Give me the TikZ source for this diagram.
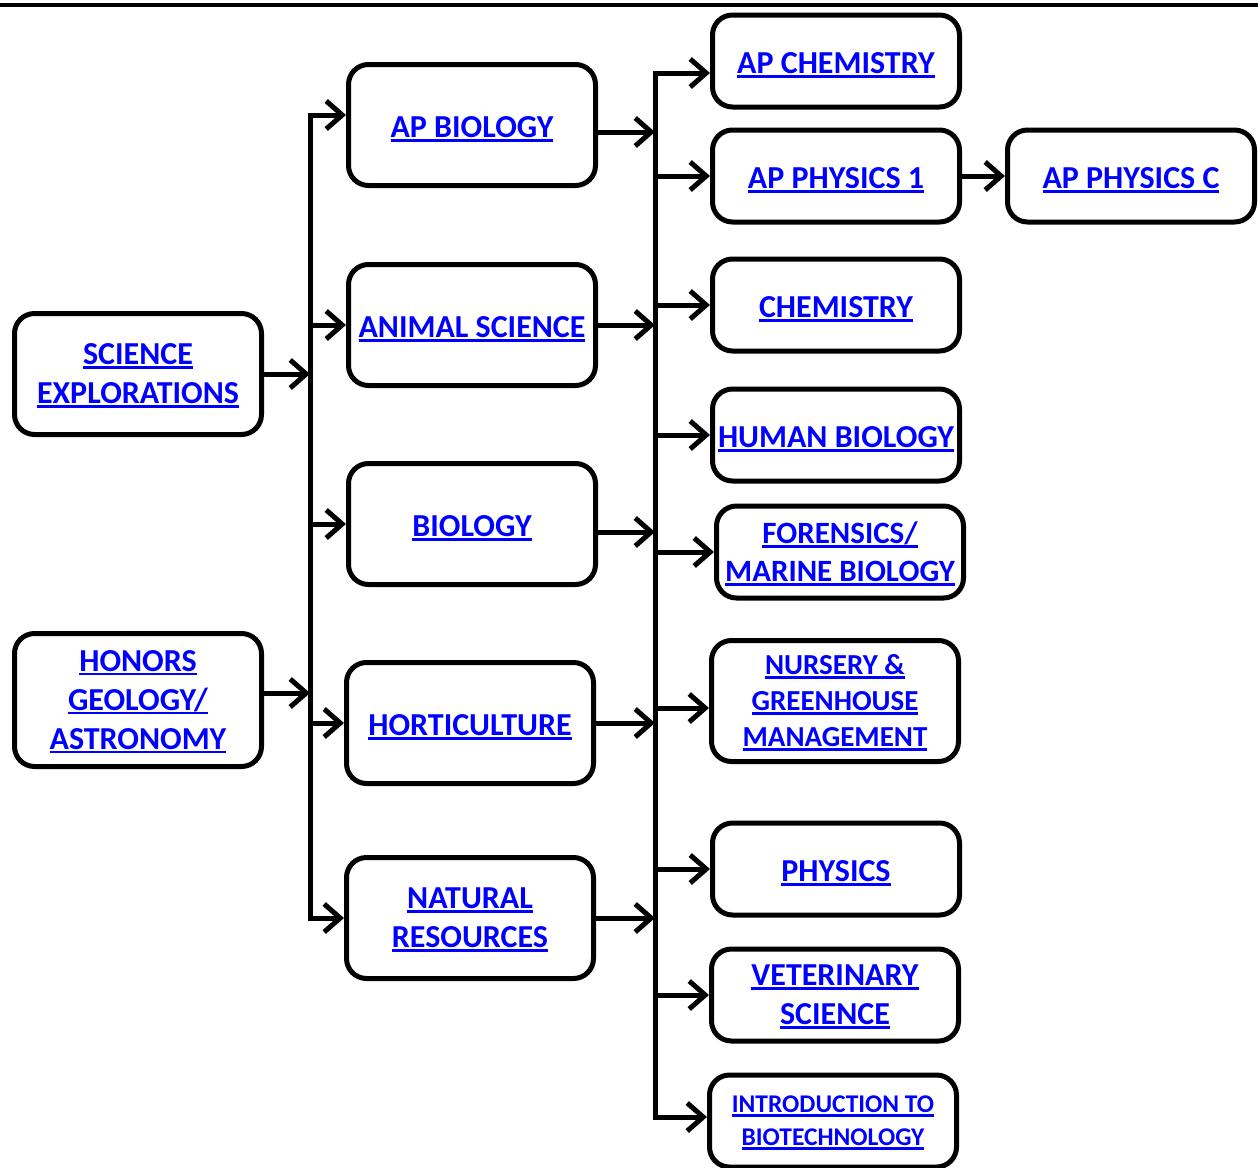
\documentclass[tikz,border=0pt]{standalone}
\usepackage{fontspec}
\setmainfont{Carlito}
\usetikzlibrary{arrows.meta}

% underlined link text
\newcommand{\lnk}[1]{\setbox0=\hbox{#1}\rlap{\smash{\rule[-4pt]{\wd0}{2.5pt}}}\box0}

\begin{document}
\begin{tikzpicture}[x=1pt, y=-1pt,
    course/.style={draw, line width=5pt, rounded corners=20pt, minimum width=247pt,
        minimum height=121pt, inner sep=2pt, text=blue, align=center,
        font=\bfseries\fontsize{32}{39}\selectfont,
        execute at begin node={\rule{0pt}{26pt}}},
    short/.style={course, minimum height=92pt},
    arr/.style={line width=5pt, -{Straight Barb[length=16pt,width=28pt]}},
    both/.style={line width=5pt, {Straight Barb[length=16pt,width=28pt]}-{Straight Barb[length=16pt,width=28pt]}}]

    \useasboundingbox (0,0) rectangle (1258,1167);
    \draw[line width=4pt] (0,5) -- (1258,5);

    % First column
    \node[course] (sci) at (138, 374) {\lnk{SCIENCE}\\\lnk{EXPLORATIONS}};
    \node[course, minimum height=133pt] (hon) at (138, 700) {\lnk{HONORS}\\\lnk{GEOLOGY/}\\\lnk{ASTRONOMY}};

    % Second column
    \node[course] (apbio) at (472, 125) {\lnk{AP BIOLOGY}};
    \node[course] (anim) at (472, 325) {\lnk{ANIMAL SCIENCE}};
    \node[course] (bio) at (472, 524) {\lnk{BIOLOGY}};
    \node[course] (hort) at (470, 723) {\lnk{HORTICULTURE}};
    \node[course] (nat) at (470, 918) {\lnk{NATURAL}\\\lnk{RESOURCES}};

    % Third column
    \node[short] (apchem) at (836, 61) {\lnk{AP CHEMISTRY}};
    \node[short] (phys1) at (836, 176) {\lnk{AP PHYSICS 1}};
    \node[short] (chem) at (836, 305) {\lnk{CHEMISTRY}};
    \node[short] (human) at (836, 435) {\lnk{HUMAN BIOLOGY}};
    \node[short, font=\bfseries\fontsize{31}{38}\selectfont] (foren) at (840, 552) {\lnk{FORENSICS/}\\\lnk{MARINE BIOLOGY}};
    \node[course, font=\bfseries\fontsize{29}{36}\selectfont] (nurs) at (835, 701) {\lnk{NURSERY \&}\\\lnk{GREENHOUSE}\\\lnk{MANAGEMENT}};
    \node[short] (phys) at (836, 869) {\lnk{PHYSICS}};
    \node[short] (vet) at (835, 995) {\lnk{VETERINARY}\\\lnk{SCIENCE}};
    \node[short, font=\bfseries\fontsize{25.5}{33}\selectfont] (intro) at (833, 1121) {\lnk{INTRODUCTION TO}\\\lnk{BIOTECHNOLOGY}};

    % Last column
    \node[short] (physc) at (1131, 176) {\lnk{AP PHYSICS C}};

    % Trunk points
    \coordinate (t1top) at (310, 115);
    \coordinate (t1bot) at (310, 918);
    \coordinate (t2top) at (655, 73);
    \coordinate (t2bot) at (655, 1117);

    % Edges into the first trunk
    \draw[arr] (sci.east) -- (sci.east -| t1top);
    \draw[arr] ([yshift=7pt]hon.east) -- ([yshift=7pt]hon.east -| t1top);

    % First trunk
    \draw[both] (apbio.west |- t1top) -- (t1top) -- (t1bot) -- (nat.west |- t1bot);
    \draw[arr] (anim.west -| t1top) -- (anim.west);
    \draw[arr] (bio.west -| t1top) -- (bio.west);
    \draw[arr] (hort.west -| t1top) -- (hort.west);

    % Edges into the second trunk
    \draw[arr] ([yshift=-7pt]apbio.east) -- ([yshift=-7pt]apbio.east -| t2top);
    \draw[arr] (anim.east) -- (anim.east -| t2top);
    \draw[arr] ([yshift=-8pt]bio.east) -- ([yshift=-8pt]bio.east -| t2top);
    \draw[arr] (hort.east) -- (hort.east -| t2top);
    \draw[arr] (nat.east) -- (nat.east -| t2top);

    % Second trunk
    \draw[both] (apchem.west |- t2top) -- (t2top) -- (t2bot) -- (intro.west |- t2bot);
    \draw[arr] (phys1.west -| t2top) -- (phys1.west);
    \draw[arr] (chem.west -| t2top) -- (chem.west);
    \draw[arr] (human.west -| t2top) -- (human.west);
    \draw[arr] (foren.west -| t2top) -- (foren.west);
    \draw[arr] ([yshift=-7pt]nurs.west -| t2top) -- ([yshift=-7pt]nurs.west);
    \draw[arr] (phys.west -| t2top) -- (phys.west);
    \draw[arr] (vet.west -| t2top) -- (vet.west);

    % AP physics
    \draw[arr] (phys1.east) -- (physc.west);

\end{tikzpicture}
\end{document}
